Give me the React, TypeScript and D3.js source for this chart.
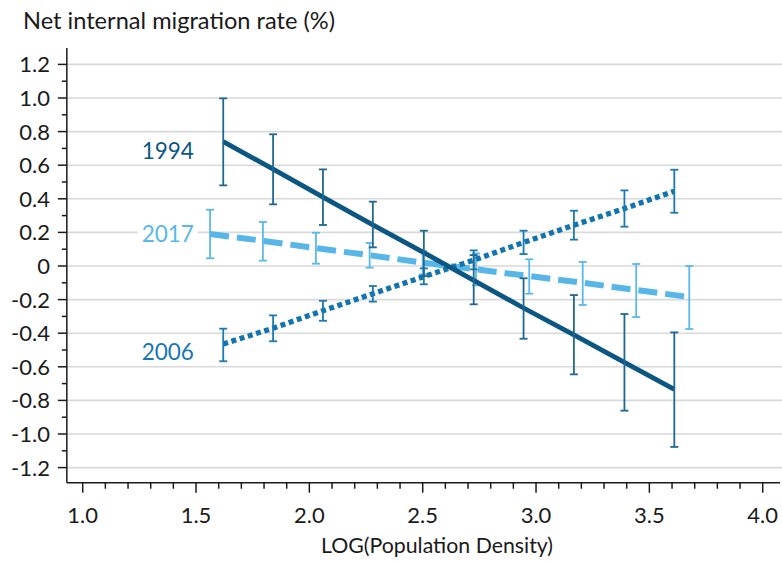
import React, { useEffect, useRef } from "react";
import * as d3 from "d3";

const W = 782;
const H = 562;

// Data
const xs1994 = [1.62, 1.84, 2.06, 2.28, 2.505, 2.725, 2.945, 3.167, 3.39, 3.61];
const mid1994 = [0.74, 0.577, 0.41, 0.245, 0.08, -0.085, -0.25, -0.41, -0.574, -0.735];
const hi1994 = [0.998, 0.784, 0.575, 0.383, 0.21, 0.065, -0.073, -0.173, -0.286, -0.395];
const lo1994 = [0.48, 0.367, 0.244, 0.111, -0.06, -0.228, -0.433, -0.645, -0.861, -1.077];

const xs2006 = [1.62, 1.84, 2.06, 2.28, 2.505, 2.725, 2.945, 3.167, 3.39, 3.61];
const mid2006 = [-0.464, -0.37, -0.266, -0.165, -0.063, 0.035, 0.14, 0.243, 0.342, 0.445];
const hi2006 = [-0.373, -0.294, -0.207, -0.119, -0.014, 0.093, 0.21, 0.329, 0.45, 0.573];
const lo2006 = [-0.567, -0.448, -0.326, -0.212, -0.109, -0.02, 0.071, 0.157, 0.234, 0.317];

const xs2017 = [1.562, 1.795, 2.029, 2.266, 2.5, 2.735, 2.97, 3.206, 3.442, 3.676];
const mid2017 = [0.19, 0.15, 0.106, 0.064, 0.02, -0.02, -0.06, -0.1, -0.143, -0.185];
const hi2017 = [0.335, 0.262, 0.198, 0.137, 0.09, 0.075, 0.04, 0.024, 0.012, 0.0];
const lo2017 = [0.046, 0.032, 0.014, -0.01, -0.05, -0.115, -0.165, -0.232, -0.304, -0.375];

const yMajorTicks = [1.2, 1.0, 0.8, 0.6, 0.4, 0.2, 0, -0.2, -0.4, -0.6, -0.8, -1.0, -1.2];
const yTickLabels = ["1.2", "1.0", "0.8", "0.6", "0.4", "0.2", "0", "-0.2", "-0.4", "-0.6", "-0.8", "-1.0", "-1.2"];
const yMinorTicks = [1.1, 0.9, 0.7, 0.5, 0.3, 0.1, -0.1, -0.3, -0.5, -0.7, -0.9, -1.1];
const xMajorTicks = [1.0, 1.5, 2.0, 2.5, 3.0, 3.5, 4.0];
const xTickLabels = ["1.0", "1.5", "2.0", "2.5", "3.0", "3.5", "4.0"];

const seriesNames = ["2017", "2006", "1994"];
const labelX = 1.26;
const labelY = [0.19, -0.512, 0.685];

const FONT = "Lato, 'Noto Sans', sans-serif";

export default function App() {
  const ref = useRef<SVGSVGElement>(null);

  useEffect(() => {
    const svg = d3.select(ref.current);
    svg.selectAll("*").remove();

    const x = d3.scaleLinear().domain([1, 4]).range([82.7, 762.7]);
    const y = d3.scaleLinear().domain([-1.2, 1.2]).range([467.6, 64.4]);
    const axisX0 = x(0.93);
    const axisX1 = 780;
    const axisYTop = y(1.298);
    const axisYBot = y(-1.29);

    // grid
    svg.append("g")
      .selectAll("line")
      .data(yMajorTicks)
      .join("line")
      .attr("x1", axisX0)
      .attr("x2", W)
      .attr("y1", (d) => y(d))
      .attr("y2", (d) => y(d))
      .attr("stroke", "#d9d9d9")
      .attr("stroke-width", 1.6);

    // axes lines
    const ax = svg.append("g").attr("stroke", "#1a1a1a").attr("stroke-width", 1.5);
    ax.append("line").attr("x1", axisX0).attr("x2", axisX0).attr("y1", axisYTop).attr("y2", axisYBot);
    ax.append("line").attr("x1", axisX0).attr("x2", axisX1).attr("y1", axisYBot).attr("y2", axisYBot);

    // y ticks
    ax.selectAll(".ymaj").data(yMajorTicks).join("line")
      .attr("class", "ymaj")
      .attr("x1", axisX0 - 9).attr("x2", axisX0)
      .attr("y1", (d) => y(d)).attr("y2", (d) => y(d));
    ax.selectAll(".ymin").data(yMinorTicks).join("line")
      .attr("class", "ymin")
      .attr("x1", axisX0 - 5).attr("x2", axisX0)
      .attr("y1", (d) => y(d)).attr("y2", (d) => y(d));

    // x ticks
    const xMinor = d3.range(10, 41).map((v) => v / 10).filter((v) => Math.round(v * 10) % 5 !== 0);
    ax.selectAll(".xmaj").data(xMajorTicks).join("line")
      .attr("class", "xmaj")
      .attr("x1", (d) => x(d)).attr("x2", (d) => x(d))
      .attr("y1", axisYBot).attr("y2", axisYBot + 10);
    ax.selectAll(".xmin").data(xMinor).join("line")
      .attr("class", "xmin")
      .attr("x1", (d) => x(d)).attr("x2", (d) => x(d))
      .attr("y1", axisYBot).attr("y2", axisYBot + 6);

    const txt = svg.append("g").attr("font-family", FONT).attr("fill", "#1a1a1a").attr("font-size", 22);
    txt.selectAll(".yl").data(yMajorTicks).join("text")
      .attr("class", "yl")
      .attr("x", 50)
      .attr("y", (d) => y(d))
      .attr("dy", "0.36em")
      .attr("text-anchor", "end")
      .text((d, i) => yTickLabels[i]);
    txt.selectAll(".xl").data(xMajorTicks).join("text")
      .attr("class", "xl")
      .attr("x", (d) => x(d))
      .attr("y", 522.7)
      .attr("text-anchor", "middle")
      .text((d, i) => xTickLabels[i]);
    txt.append("text").attr("x", 437).attr("y", 553).attr("text-anchor", "middle")
      .attr("font-size", 21.3).text("LOG(Population Density)");
    txt.append("text").attr("x", 23).attr("y", 28.5).attr("font-size", 23.6)
      .text("Net internal migration rate (%)");

    const series = [
      { xs: xs2017, mid: mid2017, hi: hi2017, lo: lo2017, line: "#56b6e8", bar: "#5ab9ea", width: 6, dash: "19,8" },
      { xs: xs2006, mid: mid2006, hi: hi2006, lo: lo2006, line: "#0f74b0", bar: "#1b79b3", width: 5.3, dash: "5,3.6" },
      { xs: xs1994, mid: mid1994, hi: hi1994, lo: lo1994, line: "#0b5682", bar: "#1e6892", width: 4.8, dash: null },
    ];

    series.forEach((s) => {
      const g = svg.append("g");
      const pts = s.xs.map((xv, i) => [x(xv), y(s.mid[i])] as [number, number]);
      g.append("path")
        .attr("d", d3.line()(pts))
        .attr("fill", "none")
        .attr("stroke", s.line)
        .attr("stroke-width", s.width)
        .attr("stroke-dasharray", s.dash)
        .attr("stroke-linecap", "butt");
      const bars = g.append("g").attr("stroke", s.bar).attr("stroke-width", 1.8);
      s.xs.forEach((xv, i) => {
        const cx = x(xv);
        bars.append("line").attr("x1", cx).attr("x2", cx).attr("y1", y(s.hi[i])).attr("y2", y(s.lo[i]));
        bars.append("line").attr("x1", cx - 4).attr("x2", cx + 4).attr("y1", y(s.hi[i])).attr("y2", y(s.hi[i]));
        bars.append("line").attr("x1", cx - 4).attr("x2", cx + 4).attr("y1", y(s.lo[i])).attr("y2", y(s.lo[i]));
      });
    });

    // series labels
    const labelColors = ["#59b8e9", "#1877b3", "#0d5783"];
    seriesNames.forEach((name, i) => {
      const lg = svg.append("g");
      const rect = lg.append("rect").attr("fill", "#fff");
      const t = lg.append("text")
        .attr("x", x(labelX))
        .attr("y", y(labelY[i]))
        .attr("dy", "0.36em")
        .attr("font-family", FONT)
        .attr("font-size", 22.5)
        .attr("fill", labelColors[i])
        .text(name);
      const bb = (t.node() as SVGTextElement).getBBox();
      rect.attr("x", bb.x - 4).attr("y", bb.y).attr("width", bb.width + 8).attr("height", bb.height);
    });
  }, []);

  return (
    <svg
      ref={ref}
      width={W}
      height={H}
      style={{ position: "absolute", left: 0, top: 0, background: "#fff" }}
    />
  );
}
